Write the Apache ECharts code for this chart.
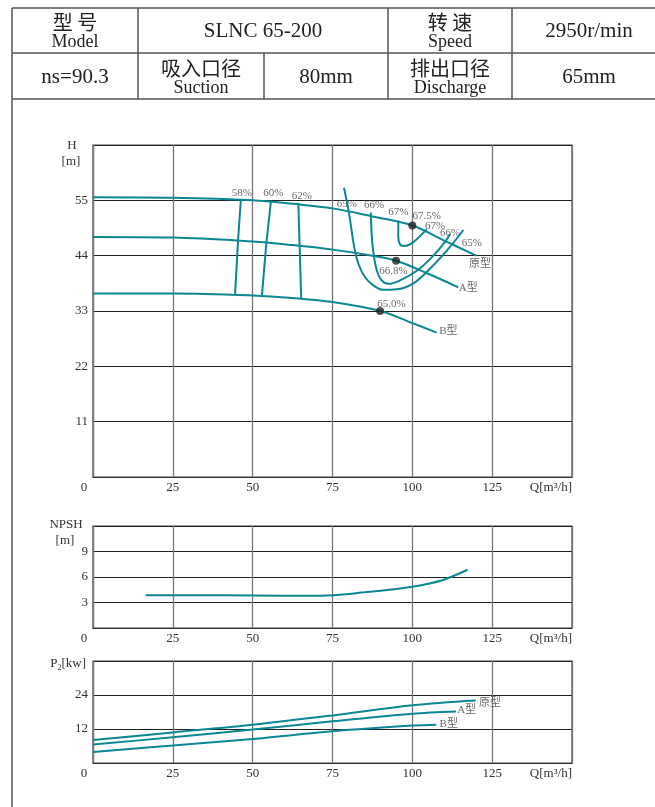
<!DOCTYPE html>
<html><head><meta charset="utf-8">
<script src="https://cdn.jsdelivr.net/npm/echarts@6/dist/echarts.min.js"></script>
<style>html,body{margin:0;padding:0;background:#fff}#c{width:655px;height:807px}</style>
</head><body><div id="c"></div><script>
// ---- H-Q curves ----
const Q_ORIG = [0, 25, 50, 62.5, 75, 87.5, 100, 110, 120];
const H_ORIG = [55.6, 55.5, 55.0, 54.3, 53.4, 51.8, 50.0, 47.0, 44.0];
const Q_A = [0, 25, 50, 62.5, 75, 87.5, 95, 105, 114.4];
const H_A = [47.7, 47.6, 46.8, 46.1, 45.2, 44.0, 43.0, 40.4, 37.7];
const Q_B = [0, 25, 50, 62.5, 75, 90, 100, 107.6];
const H_B = [36.5, 36.5, 36.1, 35.6, 34.8, 33.0, 30.6, 28.7];
// ---- iso-efficiency lines (Q, H) ----
const EFF58 = [[46.3, 55.1], [45.4, 46.9], [44.5, 36.4]];
const EFF60 = [[55.7, 54.7], [54.3, 46.6], [52.9, 36.1]];
const EFF62 = [[64.3, 54.5], [64.7, 46.0], [65.2, 35.6]];
const EFF65 = [[78.6, 57.5], [80.2, 52.3], [81.8, 45.7], [83.1, 42.4], [85.2, 39.7], [87.8, 38.1], [90.9, 37.2], [95.1, 37.3], [100.3, 38.5], [105.5, 41.4], [110.8, 45.0], [116.0, 49.1]];
const EFF66 = [[87.0, 52.6], [87.6, 45.7], [88.9, 41.0], [90.4, 39.1], [92.5, 38.4], [96.2, 39.1], [101.4, 41.0], [106.6, 44.0], [110.2, 46.7], [111.8, 48.3]];
const EFF67 = [[95.6, 51.0], [95.6, 47.7], [96.2, 46.2], [97.7, 45.9], [100.3, 46.7], [103.4, 48.5], [104.5, 49.3]];
// ---- best efficiency points ----
const BEP = [[100, 50.0], [94.9, 43.0], [89.9, 33.0]];
// ---- labels on H-Q chart (Q, H, text) ----
const H_LABELS = [
  [46.6, 56.4, '58%'], [56.5, 56.4, '60%'], [65.4, 55.9, '62%'],
  [79.5, 54.3, '65%'], [88.0, 54.0, '66%'], [95.6, 52.6, '67%'],
  [104.5, 51.8, '67.5%'], [107.1, 49.8, '67%'], [111.8, 48.5, '66%'],
  [118.6, 46.5, '65%'], [121.2, 42.4, '原型'], [94.1, 40.9, '66.8%'],
  [117.5, 37.6, 'A型'], [93.5, 34.4, '65.0%'], [111.3, 29.0, 'B型']
];
// ---- NPSH ----
const Q_NPSH = [16.5, 30, 50, 67, 75, 85, 95, 100, 105, 110, 117.3];
const NPSH = [3.85, 3.85, 3.82, 3.78, 3.85, 4.2, 4.6, 4.85, 5.2, 5.7, 6.85];
// ---- Power ----
const Q_P_ORIG = [0, 25, 50, 75, 100, 119.8];
const P_ORIG = [8.1, 10.8, 13.5, 16.8, 20.4, 22.1];
const Q_P_A = [0, 25, 50, 75, 100, 113.7];
const P_A = [6.5, 9.1, 11.8, 14.7, 17.4, 18.2];
const Q_P_B = [0, 25, 50, 75, 100, 107.5];
const P_B = [3.9, 6.2, 8.5, 11.2, 13.2, 13.5];
const P_LABELS = [[124.3, 21.2, '原型'], [117.0, 18.5, 'A型'], [111.4, 13.9, 'B型']];
// ---- axes ----
const X_MAX = 150, X_STEP = 25;
const H_MAX = 66, H_STEP = 11;
const N_MAX = 12, N_STEP = 3;
const P_MAX = 36, P_STEP = 12;

const zip = (a, b) => a.map((v, i) => [v, b[i]]);
const TEAL = '#0b8793';
const SERIF = '"Liberation Serif","Times New Roman",serif';
const CJK = '"Noto Sans CJK SC",sans-serif';

const grids = [
  {left: 93, top: 145, width: 479, height: 332},
  {left: 93, top: 526, width: 479, height: 102},
  {left: 93, top: 661, width: 479, height: 102}
].map(g => Object.assign(g, {show: true, borderColor: '#444', borderWidth: 1.2, containLabel: false}));

function xAxis(i) {
  return {
    type: 'value', gridIndex: i, min: 0, max: X_MAX, interval: X_STEP,
    axisLine: {show: true, lineStyle: {color: '#333', width: 1.2}},
    axisTick: {show: false},
    splitLine: {show: true, lineStyle: {color: '#777', width: 1.3}},
    axisLabel: {
      margin: 4, color: '#333', fontFamily: SERIF, fontSize: 13, alignMaxLabel: 'right',
      formatter: v => v === 0 ? '{z|0}' : (v === X_MAX ? 'Q[m³/h]' : String(v)),
      rich: {z: {fontFamily: SERIF, fontSize: 13, color: '#333', padding: [0, 18, 0, 0]}}
    }
  };
}
function yAxis(i, max, step) {
  return {
    type: 'value', gridIndex: i, min: 0, max: max, interval: step,
    axisLine: {show: true, lineStyle: {color: '#777', width: 1.2}},
    axisTick: {show: false},
    splitLine: {show: true, lineStyle: {color: '#222', width: 1}},
    axisLabel: {
      margin: 5, color: '#333', fontFamily: SERIF, fontSize: 13,
      formatter: v => (v === 0 || v === max) ? '' : String(v)
    }
  };
}
function line(data, xi, yi, smooth) {
  return {type: 'line', xAxisIndex: xi, yAxisIndex: yi, data: data, symbol: 'none',
    smooth: smooth === undefined ? 0.35 : smooth, lineStyle: {color: TEAL, width: 2}, silent: true, z: 3};
}
function labels(arr, xi, yi) {
  return {type: 'scatter', xAxisIndex: xi, yAxisIndex: yi, symbolSize: 1,
    itemStyle: {color: 'rgba(0,0,0,0)'}, silent: true, z: 5,
    data: arr.map(d => ({value: [d[0], d[1]], name: d[2]})),
    label: {show: true, position: 'inside', formatter: p => p.name, color: '#444',
      fontFamily: SERIF + ',' + CJK, fontSize: 11}};
}

// table graphics
const LINE = {stroke: '#555', lineWidth: 1.5};
const g = [];
function hl(y, x1, x2) { g.push({type: 'line', shape: {x1: x1, y1: y, x2: x2, y2: y}, style: LINE}); }
function vl(x, y1, y2) { g.push({type: 'line', shape: {x1: x, y1: y1, x2: x, y2: y2}, style: LINE}); }
hl(8, 12, 655); hl(53, 12, 655); hl(99, 12, 655);
vl(12, 8, 807); vl(138, 8, 99); vl(388, 8, 99); vl(512, 8, 99); vl(264, 53, 99);
function txt(x, y, s, size, font) {
  g.push({type: 'text', x: x, y: y, style: {text: s, fill: '#222', font: size + 'px ' + font, textAlign: 'center', textVerticalAlign: 'middle'}});
}
txt(75, 22, '型 号', 20, CJK); txt(75, 42, 'Model', 18, SERIF);
txt(263, 31, 'SLNC 65-200', 21, SERIF);
txt(450, 22, '转 速', 20, CJK); txt(450, 42, 'Speed', 18, SERIF);
txt(589, 31, '2950r/min', 21, SERIF);
txt(75, 77, 'ns=90.3', 21, SERIF);
txt(201, 68, '吸入口径', 20, CJK); txt(201, 88, 'Suction', 18, SERIF);
txt(326, 77, '80mm', 21, SERIF);
txt(450, 68, '排出口径', 20, CJK); txt(450, 88, 'Discharge', 18, SERIF);
txt(589, 77, '65mm', 21, SERIF);
// axis names
function nm(x, y, s) {
  g.push({type: 'text', x: x, y: y, style: {text: s, fill: '#333', font: '13px ' + SERIF, textAlign: 'center', textVerticalAlign: 'middle'}});
}
nm(72, 146, 'H'); nm(71, 162, '[m]');
nm(66, 525, 'NPSH'); nm(65, 541, '[m]');
g.push({type: 'text', x: 86, y: 664, style: {
  text: 'P{s|2}[kw]', fill: '#333', font: '13px ' + SERIF, textAlign: 'right', textVerticalAlign: 'middle',
  rich: {s: {fontSize: 8, fontFamily: SERIF, fill: '#333', padding: [8, 0, 0, 0]}}}});

const option = {
  animation: false,
  backgroundColor: '#fff',
  grid: grids,
  xAxis: [xAxis(0), xAxis(1), xAxis(2)],
  yAxis: [yAxis(0, H_MAX, H_STEP), yAxis(1, N_MAX, N_STEP), yAxis(2, P_MAX, P_STEP)],
  graphic: g,
  series: [
    line(zip(Q_ORIG, H_ORIG), 0, 0),
    line(zip(Q_A, H_A), 0, 0),
    line(zip(Q_B, H_B), 0, 0),
    line(EFF58, 0, 0, false), line(EFF60, 0, 0, false), line(EFF62, 0, 0, false),
    line(EFF65, 0, 0, 0.4), line(EFF66, 0, 0, 0.4), line(EFF67, 0, 0, 0.4),
    {type: 'scatter', xAxisIndex: 0, yAxisIndex: 0, data: BEP, symbolSize: 8,
      itemStyle: {color: '#222'}, silent: true, z: 6},
    labels(H_LABELS, 0, 0),
    line(zip(Q_NPSH, NPSH), 1, 1),
    line(zip(Q_P_ORIG, P_ORIG), 2, 2),
    line(zip(Q_P_A, P_A), 2, 2),
    line(zip(Q_P_B, P_B), 2, 2),
    labels(P_LABELS, 2, 2)
  ]
};
const chart = echarts.init(document.getElementById('c'), null, {renderer: 'canvas'});
chart.setOption(option);
</script></body></html>
